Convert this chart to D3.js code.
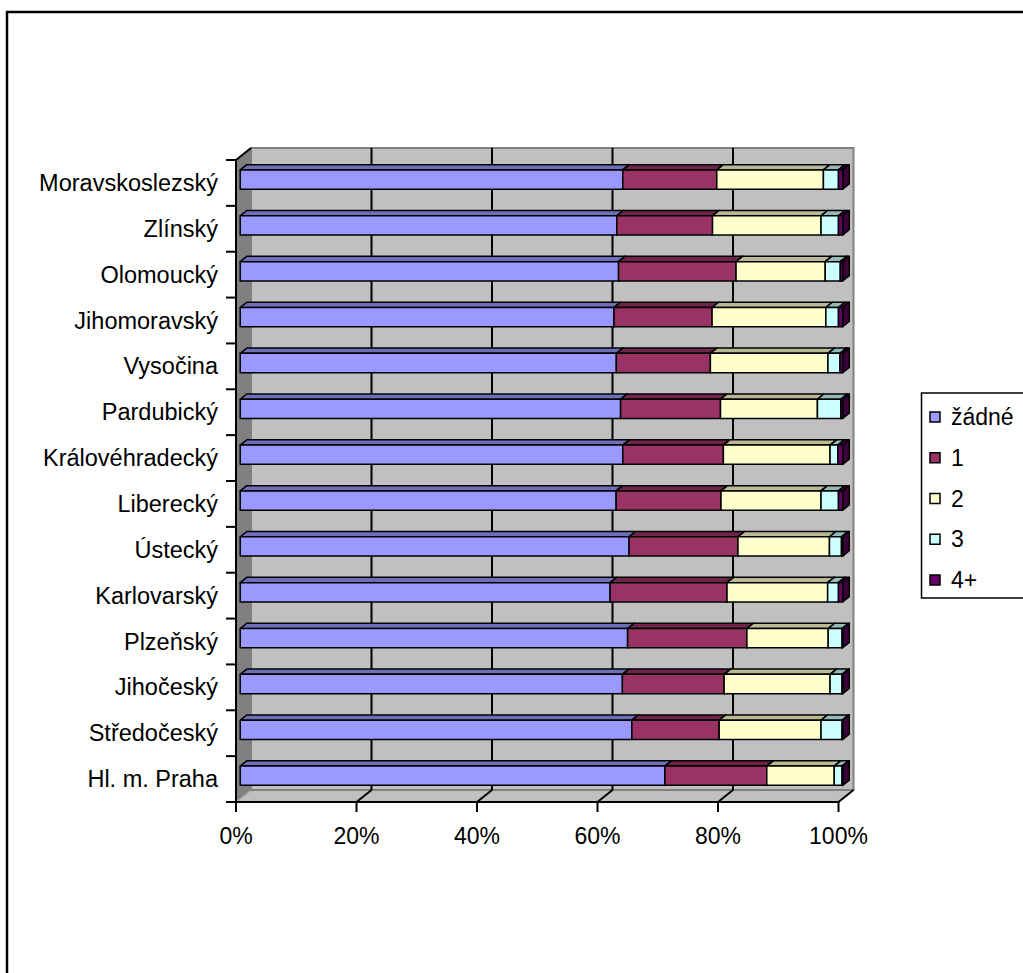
<!DOCTYPE html>
<meta charset="utf-8">
<style>
    body { margin: 0; background: white; }
    text { font-family: "Liberation Sans", Arial, sans-serif; fill: black; }
</style>
<body>
<div id="chart"></div>
<script src="https://d3js.org/d3.v7.min.js"></script>
<script>
// categories from bottom (first) to top (last)
const categories = ["Hl. m. Praha", "Středočeský", "Jihočeský", "Plzeňský", "Karlovarský", "Ústecký",
    "Liberecký", "Královéhradecký", "Pardubický", "Vysočina", "Jihomoravský", "Olomoucký", "Zlínský", "Moravskoslezský"];
const seriesNames = ["žádné", "1", "2", "3", "4+"];
const zadne = [70.5, 65.0, 63.5, 64.3, 61.4, 64.6, 62.4, 63.5, 63.2, 62.4, 62.1, 62.8, 62.5, 63.5];
const jedno = [16.9, 14.5, 16.9, 19.8, 19.4, 18.1, 17.4, 16.7, 16.6, 15.6, 16.3, 19.5, 15.9, 15.6];
const dve = [11.2, 16.9, 17.6, 13.5, 16.7, 15.2, 16.6, 17.7, 16.1, 19.5, 18.9, 14.8, 18.0, 17.7];
const tri = [1.3, 3.5, 2.0, 2.3, 1.8, 2.0, 2.9, 1.3, 3.9, 2.0, 2.1, 2.5, 2.9, 2.5];
const ctyri = [0.1, 0.1, 0.1, 0.1, 0.7, 0.2, 0.7, 0.8, 0.3, 0.45, 0.7, 0.4, 0.7, 0.7];
const tickValues = [0, 0.2, 0.4, 0.6, 0.8, 1];
const colors = ["#9999FF", "#993366", "#FFFFCC", "#CCFFFF", "#660066"];

const width = 1023, height = 973;
const svg = d3.select("#chart").append("svg")
    .attr("width", width).attr("height", height);

// chart border (runs off the picture on the right and bottom)
svg.append("rect")
    .attr("x", 7).attr("y", 12).attr("width", 1200).attr("height", 1200)
    .attr("fill", "white").attr("stroke", "black").attr("stroke-width", 2.5);

const front = {x0: 236, x1: 838.5, y0: 160, y1: 802};
const depth = {dx: 15, dy: -12};
const barFront = 0.28, barBack = 0.72;

const rows = categories.map((c, i) => ({
    cat: c, "žádné": zadne[i], "1": jedno[i], "2": dve[i], "3": tri[i], "4+": ctyri[i]
}));
const stacked = d3.stack().keys(seriesNames).offset(d3.stackOffsetExpand)(rows);

const x = d3.scaleLinear().domain([0, 1]).range([front.x0, front.x1]);
const y = d3.scaleBand()
    .domain(categories.slice().reverse())
    .range([front.y0, front.y1])
    .paddingInner(0.58).paddingOuter(0.29);

const pts = p => p.map(d => d.join(",")).join(" ");

// left wall
svg.append("polygon")
    .attr("points", pts([[front.x0, front.y0], [front.x0 + depth.dx, front.y0 + depth.dy],
        [front.x0 + depth.dx, front.y1 + depth.dy], [front.x0, front.y1]]))
    .attr("fill", "#808080").attr("stroke", "#808080");
// floor
svg.append("polygon")
    .attr("points", pts([[front.x0, front.y1], [front.x1, front.y1],
        [front.x1 + depth.dx, front.y1 + depth.dy], [front.x0 + depth.dx, front.y1 + depth.dy]]))
    .attr("fill", "#C0C0C0").attr("stroke", "#A0A0A0").attr("stroke-width", 1.5);
// back wall
svg.append("rect")
    .attr("x", front.x0 + depth.dx).attr("y", front.y0 + depth.dy)
    .attr("width", front.x1 - front.x0).attr("height", front.y1 - front.y0)
    .attr("fill", "#C0C0C0").attr("stroke", "#808080").attr("stroke-width", 2);

// gridlines: back wall and floor
const grid = svg.append("g");
tickValues.slice(1, -1).forEach(t => {
    grid.append("line")
        .attr("x1", x(t) + depth.dx).attr("x2", x(t) + depth.dx)
        .attr("y1", front.y0 + depth.dy).attr("y2", front.y1 + depth.dy)
        .attr("stroke", "black").attr("stroke-width", 2);
});
tickValues.slice(1).forEach(t => {
    grid.append("line")
        .attr("x1", x(t)).attr("y1", front.y1)
        .attr("x2", x(t) + depth.dx).attr("y2", front.y1 + depth.dy)
        .attr("stroke", "black").attr("stroke-width", 2);
});

// bars
const fdx = depth.dx * barFront, fdy = depth.dy * barFront;
const bdx = depth.dx * (barBack - barFront), bdy = depth.dy * (barBack - barFront);
const bh = y.bandwidth();
const bars = svg.append("g");
stacked[0].forEach((_, i) => {
    stacked.forEach((s, k) => {
        const d = s[i];
        const xa = x(d[0]) + fdx, xb = x(d[1]) + fdx;
        const ya = y(d.data.cat) + fdy, yb = ya + bh;
        const c = d3.color(colors[k]);
        const g = bars.append("g")
            .attr("stroke", "black").attr("stroke-width", 1.5).attr("stroke-linejoin", "round");
        g.append("polygon")
            .attr("points", pts([[xa, ya], [xa + bdx, ya + bdy], [xb + bdx, ya + bdy], [xb, ya]]))
            .attr("fill", c.darker(0.9));
        g.append("polygon")
            .attr("points", pts([[xb, ya], [xb + bdx, ya + bdy], [xb + bdx, yb + bdy], [xb, yb]]))
            .attr("fill", c.darker(1.6));
        g.append("rect")
            .attr("x", xa).attr("y", ya).attr("width", Math.max(0, xb - xa)).attr("height", bh)
            .attr("fill", colors[k]);
    });
});

// axes
const axes = svg.append("g").attr("stroke", "black").attr("stroke-width", 2);
axes.append("line")
    .attr("x1", front.x0).attr("x2", front.x0).attr("y1", front.y0).attr("y2", front.y1);
axes.append("line")
    .attr("x1", front.x0).attr("y1", front.y0)
    .attr("x2", front.x0 + depth.dx).attr("y2", front.y0 + depth.dy);
axes.append("line")
    .attr("x1", front.x0).attr("x2", front.x1).attr("y1", front.y1).attr("y2", front.y1);
d3.range(categories.length + 1).forEach(i => {
    const yy = front.y0 + i * y.step();
    axes.append("line").attr("x1", front.x0 - 10).attr("x2", front.x0).attr("y1", yy).attr("y2", yy);
});
tickValues.forEach(t => {
    axes.append("line").attr("x1", x(t)).attr("x2", x(t)).attr("y1", front.y1).attr("y2", front.y1 + 10);
});

svg.append("g").selectAll("text").data(categories).join("text")
    .attr("x", 218)
    .attr("y", d => y(d) + bh / 2)
    .attr("text-anchor", "end").attr("dominant-baseline", "central")
    .attr("font-size", 23.5)
    .text(d => d);

svg.append("g").selectAll("text").data(tickValues).join("text")
    .attr("x", d => x(d)).attr("y", 836)
    .attr("text-anchor", "middle").attr("dominant-baseline", "central")
    .attr("font-size", 23)
    .text(d => d3.format(".0%")(d));

// legend
const legend = svg.append("g");
legend.append("rect")
    .attr("x", 921.5).attr("y", 393).attr("width", 200).attr("height", 205)
    .attr("fill", "white").attr("stroke", "black").attr("stroke-width", 1.5);
const ly = d3.scalePoint().domain(seriesNames).range([417, 580]);
seriesNames.forEach((s, k) => {
    legend.append("rect")
        .attr("x", 930).attr("y", ly(s) - 5).attr("width", 10).attr("height", 10)
        .attr("fill", colors[k]).attr("stroke", "black").attr("stroke-width", 1.5);
    legend.append("text")
        .attr("x", 951).attr("y", ly(s))
        .attr("dominant-baseline", "central").attr("font-size", 23)
        .text(s);
});
</script>
</body>
